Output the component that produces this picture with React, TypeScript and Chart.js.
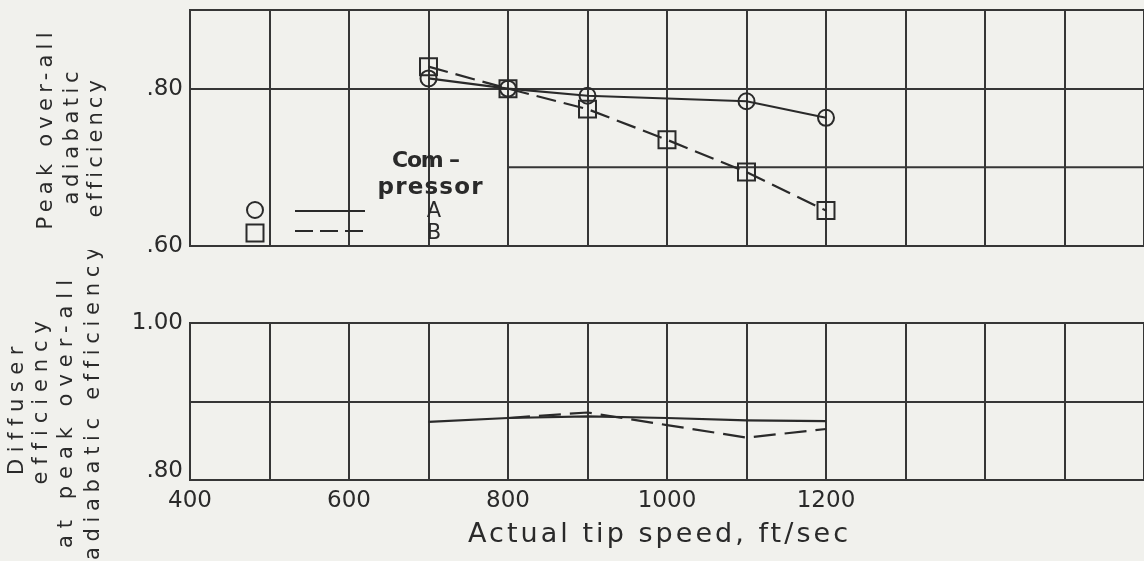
import React, { useEffect, useRef } from 'react';
import { Chart, registerables } from 'chart.js';

Chart.register(...registerables);

// ---------------- data ----------------
const tipSpeed = [700, 800, 900, 1000, 1100, 1200];
const peakEfficiencyA = [0.813, 0.8, 0.791, null, 0.784, 0.763];
const peakEfficiencyB = [0.828, 0.8, 0.774, 0.735, 0.694, 0.645];
const diffuserEfficiencyA = [0.874, 0.879, 0.881, 0.879, 0.876, 0.875];
const diffuserEfficiencyB = [null, 0.879, 0.886, 0.87, 0.854, 0.865];

const xTickLabels = [400, 600, 800, 1000, 1200];
const topYTickLabels = ['.60', '.80'];
const bottomYTickLabels = ['.80', '1.00'];
const seriesNames = ['A', 'B'];
const legendHeading = ['Com –', 'pressor'];
const topYTitle = ['Peak over-all', 'adiabatic', 'efficiency'];
const bottomYTitle = ['Diffuser', 'efficiency', 'at peak over-all', 'adiabatic efficiency'];
const xTitle = 'Actual tip speed, ft/sec';

// ---------------- style / layout ----------------
const BG = '#f1f1ed';
const INK = '#2a2a2a';
const GRID = '#363636';
const FONT = '"DejaVu Sans", sans-serif';
const PAGE_W = 1144;
const PAGE_H = 561;
const PLOT_LEFT = 190;
const TOP_CANVAS = { top: 0, height: 270 };
const BOTTOM_CANVAS = { top: 250, height: 311 };
const TOP_AREA = { top: 10, bottom: 246 };
const BOTTOM_AREA = { top: 323, bottom: 480 };

type TextSpec = {
  text: string;
  x: number;
  y: number;
  len?: number;
  size: number;
  rotate?: boolean;
  weight?: string;
  baseline?: CanvasTextBaseline;
};

const topTitleSpecs: TextSpec[] = [
  { text: topYTitle[0], x: 47, y: 131, len: 197, size: 21, rotate: true },
  { text: topYTitle[1], x: 73, y: 138, len: 133, size: 21, rotate: true },
  { text: topYTitle[2], x: 97, y: 149, len: 137, size: 21, rotate: true },
];
const bottomTitleSpecs: TextSpec[] = [
  { text: bottomYTitle[0], x: 18, y: 411, len: 128, size: 21, rotate: true },
  { text: bottomYTitle[1], x: 42, y: 403, len: 163, size: 21, rotate: true },
  { text: bottomYTitle[2], x: 67, y: 414, len: 268, size: 21, rotate: true },
  { text: bottomYTitle[3], x: 94, y: 404, len: 312, size: 21, rotate: true },
  { text: xTitle, x: 658, y: 542, len: 380, size: 27, baseline: 'alphabetic' },
];
const legendTextSpecs: TextSpec[] = [
  { text: legendHeading[0], x: 426, y: 167, len: 68, size: 22, weight: 'bold', baseline: 'alphabetic' },
  { text: legendHeading[1], x: 430, y: 194, len: 105, size: 23, weight: 'bold', baseline: 'alphabetic' },
  { text: seriesNames[0], x: 434, y: 217, size: 21, baseline: 'alphabetic' },
  { text: seriesNames[1], x: 434, y: 239, size: 21, baseline: 'alphabetic' },
];

function drawSpacedText(ctx: CanvasRenderingContext2D, spec: TextSpec, offsetY: number) {
  ctx.save();
  ctx.font = `${spec.weight ?? 'normal'} ${spec.size}px ${FONT}`;
  (ctx as any).letterSpacing = '0px';
  ctx.fillStyle = INK;
  ctx.textBaseline = spec.baseline ?? 'middle';
  ctx.translate(spec.x, spec.y - offsetY);
  if (spec.rotate) ctx.rotate(-Math.PI / 2);
  const n = spec.text.length;
  if (spec.len === undefined || n < 2) {
    ctx.textAlign = 'center';
    ctx.fillText(spec.text, 0, 0);
  } else {
    const w = ctx.measureText(spec.text).width;
    const ls = (spec.len - w) / (n - 1);
    (ctx as any).letterSpacing = `${ls}px`;
    ctx.textAlign = 'left';
    ctx.fillText(spec.text, -spec.len / 2, 0);
  }
  ctx.restore();
}

function fmt(v: number): string {
  return (Math.round(v * 100) / 100).toFixed(2).replace(/^0/, '');
}

function points(xs: number[], ys: (number | null)[]) {
  return xs
    .map((x, i) => ({ x, y: ys[i] }))
    .filter((p) => p.y !== null) as { x: number; y: number }[];
}

const gridOpts = (hide?: (v: number) => boolean) => ({
  color: (c: any) => (c.tick && hide && hide(c.tick.value) ? 'rgba(0,0,0,0)' : GRID),
  lineWidth: 2,
  drawTicks: false,
});

const borderOpts = { display: true, color: GRID, width: 2 };

function xScale(showLabels: boolean, height: number) {
  return {
    type: 'linear' as const,
    min: 400,
    max: 1600,
    grid: gridOpts(),
    border: borderOpts,
    ticks: {
      stepSize: 100,
      maxTicksLimit: 30,
      autoSkip: false,
      maxRotation: 0,
      display: showLabels,
      padding: 7,
      color: INK,
      font: { family: FONT, size: 23 },
      callback: (v: any) => (xTickLabels.includes(Number(v)) ? String(v) : ''),
    },
    afterFit: (s: any) => {
      s.height = height;
      s.paddingLeft = 0;
      s.paddingRight = 0;
    },
  };
}

// raiseAt: a tick value whose label sits just above its line (as on the lower panel's .80)
function yScale(min: number, max: number, labels: string[], hide?: (v: number) => boolean, raiseAt?: number) {
  const isRaised = (v: number) => raiseAt !== undefined && Math.round(v * 100) === Math.round(raiseAt * 100);
  return {
    type: 'linear' as const,
    min,
    max,
    grid: gridOpts(hide),
    border: borderOpts,
    ticks: {
      stepSize: 0.1,
      autoSkip: false,
      padding: 7,
      color: INK,
      font: (c: any) => ({
        family: FONT,
        size: 23,
        lineHeight: c.tick && isRaised(c.tick.value) ? 0.8 : 1.2,
      }),
      callback: (v: any) => {
        const s = fmt(Number(v));
        if (!labels.includes(s)) return '';
        return isRaised(Number(v)) ? [s, ''] : s;
      },
    },
    afterFit: (s: any) => {
      s.width = PLOT_LEFT;
      s.paddingTop = 0;
      s.paddingBottom = 0;
    },
  };
}

const lineStyle = {
  borderColor: INK,
  borderWidth: 2.2,
  pointBorderColor: INK,
  pointBackgroundColor: 'rgba(0,0,0,0)',
  pointBorderWidth: 2,
};

export default function App() {
  const topRef = useRef<HTMLCanvasElement>(null);
  const bottomRef = useRef<HTMLCanvasElement>(null);

  useEffect(() => {
    const topPlugin = {
      id: 'topDecor',
      beforeDatasetsDraw(chart: any) {
        const { ctx, scales, chartArea } = chart;
        const y = scales.y.getPixelForValue(0.7);
        ctx.save();
        ctx.strokeStyle = GRID;
        ctx.lineWidth = 2;
        ctx.beginPath();
        ctx.moveTo(scales.x.getPixelForValue(800), y);
        ctx.lineTo(chartArea.right, y);
        ctx.stroke();
        ctx.restore();
      },
      afterDraw(chart: any) {
        const ctx: CanvasRenderingContext2D = chart.ctx;
        topTitleSpecs.forEach((s) => drawSpacedText(ctx, s, TOP_CANVAS.top));
        legendTextSpecs.forEach((s) => drawSpacedText(ctx, s, TOP_CANVAS.top));
        ctx.save();
        ctx.strokeStyle = INK;
        ctx.lineWidth = 2;
        // circle symbol
        ctx.beginPath();
        ctx.arc(255, 210, 8, 0, Math.PI * 2);
        ctx.stroke();
        // square symbol
        ctx.strokeRect(255 - 8.5, 233 - 8.5, 17, 17);
        // solid line
        ctx.beginPath();
        ctx.moveTo(295, 211);
        ctx.lineTo(365, 211);
        ctx.stroke();
        // dashed line
        ctx.setLineDash([18, 7]);
        ctx.beginPath();
        ctx.moveTo(295, 231);
        ctx.lineTo(365, 231);
        ctx.stroke();
        ctx.restore();
      },
    };

    const bottomPlugin = {
      id: 'bottomDecor',
      afterDraw(chart: any) {
        const ctx: CanvasRenderingContext2D = chart.ctx;
        bottomTitleSpecs.forEach((s) => drawSpacedText(ctx, s, BOTTOM_CANVAS.top));
      },
    };

    const top = new Chart(topRef.current!, {
      type: 'line',
      data: {
        datasets: [
          {
            label: seriesNames[0],
            data: points(tipSpeed, peakEfficiencyA),
            ...lineStyle,
            pointStyle: 'circle',
            pointRadius: 8,
            pointHoverRadius: 8,
          },
          {
            label: seriesNames[1],
            data: points(tipSpeed, peakEfficiencyB),
            ...lineStyle,
            borderDash: [20, 8],
            pointStyle: 'rect',
            pointRadius: 12,
            pointHoverRadius: 12,
          },
        ],
      },
      options: {
        animation: false,
        responsive: false,
        maintainAspectRatio: false,
        events: [],
        layout: {
          autoPadding: false,
          padding: {
            top: TOP_AREA.top - TOP_CANVAS.top,
            bottom: TOP_CANVAS.height - (TOP_AREA.bottom - TOP_CANVAS.top),
            left: 0,
            right: 0,
          },
        },
        plugins: { legend: { display: false }, tooltip: { enabled: false } },
        scales: {
          x: xScale(false, 0) as any,
          y: yScale(0.6, 0.9, topYTickLabels, (v) => Math.round(v * 100) === 70) as any,
        },
      },
      plugins: [topPlugin],
    });

    const xAxisH = 45;
    const bottom = new Chart(bottomRef.current!, {
      type: 'line',
      data: {
        datasets: [
          {
            label: seriesNames[0],
            data: points(tipSpeed, diffuserEfficiencyA),
            ...lineStyle,
            pointRadius: 0,
          },
          {
            label: seriesNames[1],
            data: points(tipSpeed, diffuserEfficiencyB),
            ...lineStyle,
            borderDash: [22, 9],
            pointRadius: 0,
          },
        ],
      },
      options: {
        animation: false,
        responsive: false,
        maintainAspectRatio: false,
        events: [],
        layout: {
          autoPadding: false,
          padding: {
            top: BOTTOM_AREA.top - BOTTOM_CANVAS.top,
            bottom: BOTTOM_CANVAS.height - (BOTTOM_AREA.bottom - BOTTOM_CANVAS.top) - xAxisH,
            left: 0,
            right: 0,
          },
        },
        plugins: { legend: { display: false }, tooltip: { enabled: false } },
        scales: {
          x: xScale(true, xAxisH) as any,
          y: yScale(0.8, 1.0, bottomYTickLabels, undefined, 0.8) as any,
        },
      },
      plugins: [bottomPlugin],
    });

    return () => {
      top.destroy();
      bottom.destroy();
    };
  }, []);

  return (
    <div style={{ position: 'fixed', left: 0, top: 0, width: PAGE_W, height: PAGE_H, background: BG, overflow: 'hidden' }}>
      <canvas ref={topRef} width={PAGE_W} height={TOP_CANVAS.height} style={{ position: 'absolute', left: 0, top: TOP_CANVAS.top }} />
      <canvas ref={bottomRef} width={PAGE_W} height={BOTTOM_CANVAS.height} style={{ position: 'absolute', left: 0, top: BOTTOM_CANVAS.top }} />
    </div>
  );
}
